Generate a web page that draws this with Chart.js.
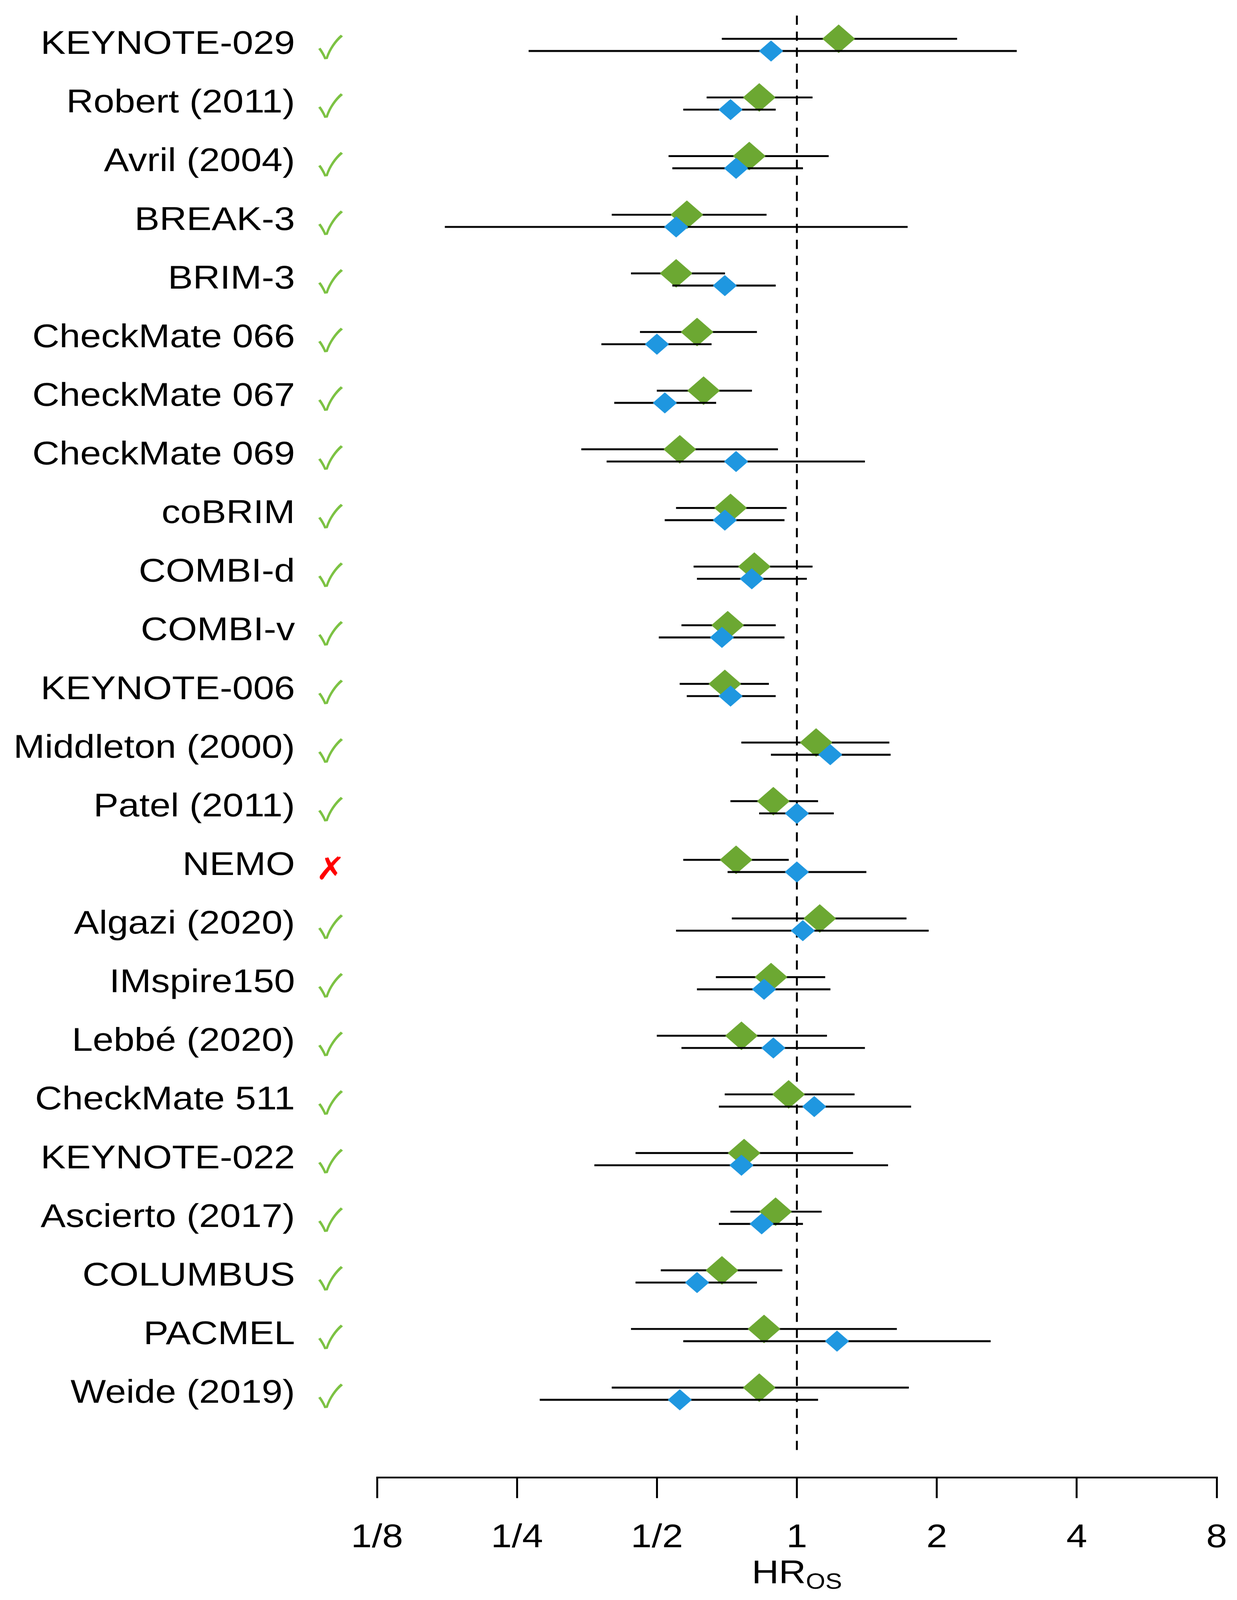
<!DOCTYPE html>
<html>
<head>
<meta charset="utf-8">
<script src="https://cdn.jsdelivr.net/npm/chart.js@4/dist/chart.umd.min.js"></script>
<style>
html,body{margin:0;padding:0;background:#fff;overflow:hidden;}
#wrap{width:3166px;height:4696px;background:#fff;overflow:hidden;}
canvas{display:block;}
</style>
</head>
<body>
<div id="wrap"><canvas id="c" width="3166" height="4696"></canvas></div>
<script>
// ---------------- data ----------------
const studies = [
  'KEYNOTE-029','Robert (2011)','Avril (2004)','BREAK-3','BRIM-3','CheckMate 066',
  'CheckMate 067','CheckMate 069','coBRIM','COMBI-d','COMBI-v','KEYNOTE-006',
  'Middleton (2000)','Patel (2011)','NEMO','Algazi (2020)','IMspire150','Lebbé (2020)',
  'CheckMate 511','KEYNOTE-022','Ascierto (2017)','COLUMBUS','PACMEL','Weide (2019)'
];
const included = [
  true,true,true,true,true,true,true,true,true,true,true,true,
  true,true,false,true,true,true,true,true,true,true,true,true
];
// green series (upper marker in each row)
const greenHR = [1.23,0.83,0.79,0.58,0.55,0.61,0.63,0.56,0.72,0.81,0.71,0.70,
                 1.10,0.89,0.74,1.12,0.88,0.76,0.96,0.77,0.90,0.69,0.85,0.83];
const greenLo = [0.69,0.64,0.53,0.40,0.44,0.46,0.50,0.344,0.55,0.60,0.565,0.56,
                 0.76,0.72,0.57,0.725,0.67,0.50,0.70,0.45,0.72,0.51,0.44,0.40];
const greenHi = [2.21,1.08,1.17,0.86,0.70,0.82,0.80,0.91,0.95,1.08,0.90,0.87,
                 1.58,1.11,0.96,1.72,1.15,1.16,1.33,1.32,1.13,0.93,1.64,1.74];
// blue series (lower marker in each row)
const blueHR  = [0.88,0.72,0.74,0.55,0.70,0.50,0.52,0.74,0.70,0.80,0.69,0.72,
                 1.18,1.00,1.00,1.03,0.85,0.89,1.09,0.76,0.84,0.61,1.22,0.56];
const blueLo  = [0.265,0.57,0.54,0.175,0.54,0.38,0.405,0.39,0.52,0.61,0.505,0.58,
                 0.88,0.83,0.71,0.55,0.61,0.565,0.68,0.367,0.68,0.45,0.57,0.28];
const blueHi  = [2.97,0.90,1.03,1.73,0.90,0.655,0.67,1.40,0.94,1.05,0.94,0.90,
                 1.59,1.20,1.41,1.92,1.18,1.40,1.76,1.57,1.03,0.82,2.61,1.11];
const tickValues = [0.125,0.25,0.5,1,2,4,8];
const tickLabels = ['1/8','1/4','1/2','1','2','4','8'];
const refValue = 1;

// ---------------- style / layout ----------------
const FONT = "'Liberation Sans', Arial, Helvetica, sans-serif";
const MARK_FONT = "'Noto Sans CJK JP', 'DejaVu Sans', sans-serif";
const GREEN = '#6CA832';
const BLUE = '#1F97E0';
const CHECK = '#7CC243';
const CROSS = '#FF0000';
const OFF = 0.104;          // vertical offset of the two series within a row
const W = 3166, H = 4696;

// fit the drawing into the visible window
const canvas = document.getElementById('c');
const wrap = document.getElementById('wrap');
const viewH = Math.min(H, window.innerHeight || H);
canvas.style.width = W + 'px';
canvas.style.height = viewH + 'px';
wrap.style.height = viewH + 'px';

Chart.defaults.font.family = FONT;
Chart.defaults.color = '#000';

const rowIdx = studies.map((_, i) => i);

const datasets = [
  {
    type: 'scatter', label: 'blue', order: 1,
    data: rowIdx.map(i => ({x: blueHR[i], y: i + OFF})),
    pointStyle: 'rectRot', pointRadius: 31, pointHoverRadius: 31,
    backgroundColor: BLUE, pointBorderWidth: 0, borderWidth: 0
  },
  {
    type: 'bar', label: 'blueCI', order: 2, indexAxis: 'y', grouped: false,
    data: rowIdx.map(i => ({x: [blueLo[i], blueHi[i]], y: i + OFF})),
    backgroundColor: '#000', borderWidth: 0, barThickness: 5
  },
  {
    type: 'scatter', label: 'green', order: 3,
    data: rowIdx.map(i => ({x: greenHR[i], y: i - OFF})),
    pointStyle: 'rectRot', pointRadius: 42, pointHoverRadius: 42,
    backgroundColor: GREEN, pointBorderWidth: 0, borderWidth: 0
  },
  {
    type: 'bar', label: 'greenCI', order: 4, indexAxis: 'y', grouped: false,
    data: rowIdx.map(i => ({x: [greenLo[i], greenHi[i]], y: i - OFF})),
    backgroundColor: '#000', borderWidth: 0, barThickness: 5
  },
  {
    type: 'line', label: 'ref', order: 10,
    data: [{x: refValue, y: -0.5}, {x: refValue, y: studies.length}],
    borderColor: '#000', borderWidth: 5, borderDash: [27, 20], borderCapStyle: 'butt',
    pointRadius: 0, fill: false, tension: 0
  }
];

const annotatePlugin = {
  id: 'annotate',
  afterDraw(chart) {
    const ctx = chart.ctx;
    const ys = chart.scales.y, xs = chart.scales.x;
    ctx.save();
    ctx.textAlign = 'center';
    ctx.textBaseline = 'alphabetic';
    ctx.font = '92px ' + MARK_FONT;
    studies.forEach((s, i) => {
      const ok = included[i];
      ctx.fillStyle = ok ? CHECK : CROSS;
      ctx.fillText(ok ? '\u2713' : '\u2717', 846, ys.getPixelForValue(i) + 40);
    });
    // axis title HR with subscript OS
    const xc = xs.getPixelForValue(refValue);
    ctx.fillStyle = '#000';
    ctx.textAlign = 'left';
    ctx.font = '96px ' + FONT;
    const w1 = ctx.measureText('HR').width;
    ctx.font = '64px ' + FONT;
    const w2 = ctx.measureText('OS').width;
    const x0 = xc - (w1 + w2) / 2;
    ctx.font = '96px ' + FONT;
    ctx.fillText('HR', x0, 4647);
    ctx.font = '64px ' + FONT;
    ctx.fillText('OS', x0 + w1, 4663);
    ctx.restore();
  }
};

new Chart(canvas, {
  type: 'scatter',
  data: {datasets},
  options: {
    responsive: false,
    maintainAspectRatio: false,
    devicePixelRatio: 1,
    animation: false,
    events: [],
    layout: {padding: {left: 0, right: 52, top: 30, bottom: 0}},
    plugins: {legend: {display: false}, tooltip: {enabled: false}, title: {display: false}},
    scales: {
      x: {
        type: 'logarithmic',
        position: 'bottom',
        offset: false,
        beginAtZero: false,
        min: tickValues[0],
        max: tickValues[tickValues.length - 1],
        afterBuildTicks: s => { s.ticks = tickValues.map(v => ({value: v})); },
        afterFit: s => { s.height = H - 4336; s.paddingLeft = 0; s.paddingRight = 0; s.paddingTop = 0; s.paddingBottom = 0; },
        ticks: {
          autoSkip: false, maxRotation: 0, minRotation: 0,
          font: {size: 96, family: FONT}, color: '#000', padding: 60,
          callback: (v, i) => tickLabels[i]
        },
        grid: {display: true, offset: false, drawOnChartArea: false, drawTicks: true, tickLength: 61,
               color: '#000', lineWidth: 5, tickWidth: 5, tickColor: '#000'},
        border: {display: true, color: '#000', width: 5}
      },
      y: {
        type: 'linear',
        position: 'left',
        reverse: true,
        offset: false,
        min: -0.5214,
        max: 24.426,
        afterBuildTicks: s => { s.ticks = rowIdx.map(i => ({value: i})); },
        afterFit: s => { s.width = 965; s.paddingLeft = 0; s.paddingRight = 0; s.paddingTop = 0; s.paddingBottom = 0; },
        ticks: {
          autoSkip: false, font: {size: 96, family: FONT}, color: '#000', padding: 210,
          callback: (v) => studies[v]
        },
        grid: {display: false, offset: false, drawTicks: false},
        border: {display: false}
      }
    }
  },
  plugins: [annotatePlugin]
});
</script>
</body>
</html>
